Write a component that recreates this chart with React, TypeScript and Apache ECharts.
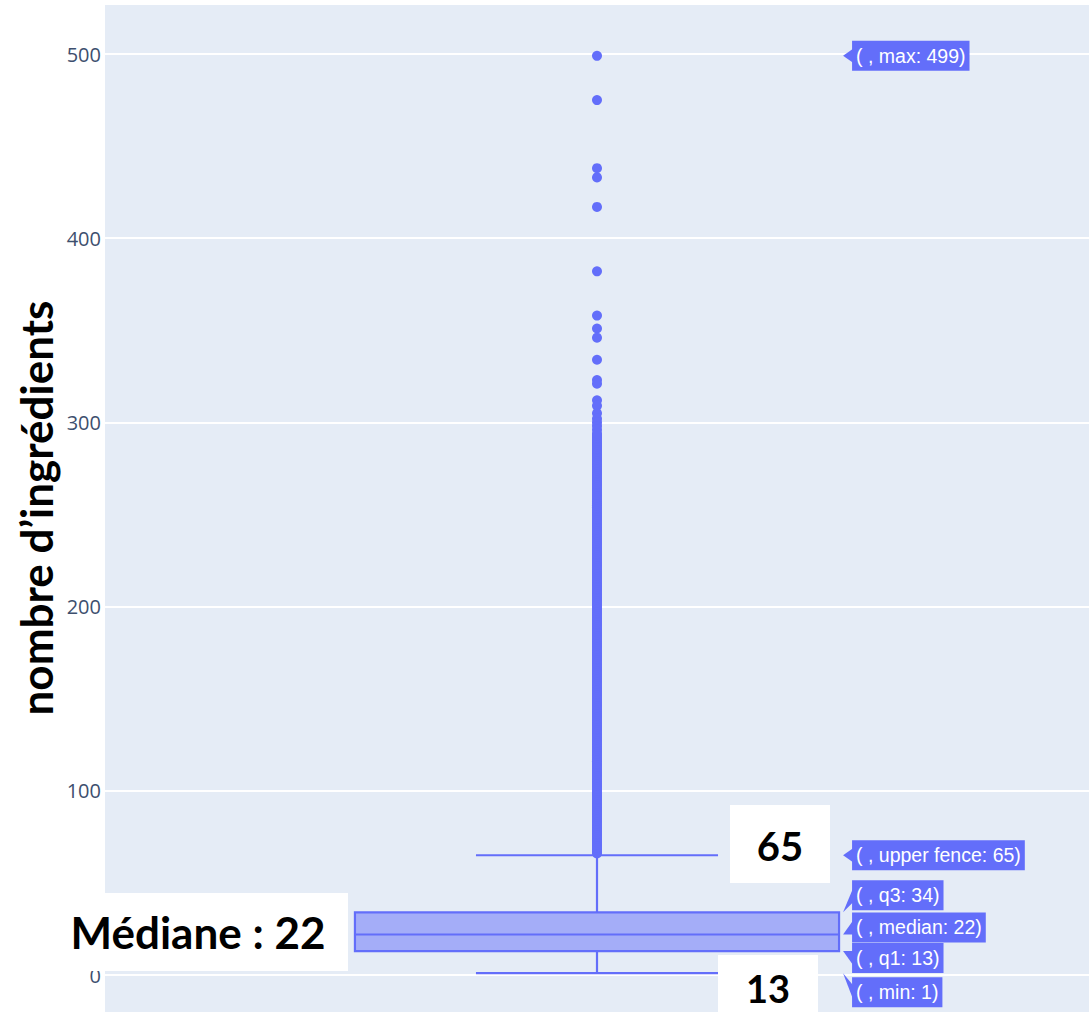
import React, { useEffect, useRef } from "react";
import * as echarts from "echarts";

const categories = [""];
const yTicks = [0, 100, 200, 300, 400, 500];
const boxMin = 1;
const boxQ1 = 13;
const boxMedian = 22;
const boxQ3 = 34;
const boxUpperFence = 65;
const boxMax = 499;

const outliersSparse = [499, 475, 438, 433, 417, 382, 358, 351, 346, 334, 323, 321, 312, 309, 305, 302, 300, 298, 296];
const outliersDense = [
  66, 67, 68, 69, 70, 71, 72, 73, 74, 75, 76, 77, 78, 79, 80, 81, 82, 83, 84, 85,
  86, 87, 88, 89, 90, 91, 92, 93, 94, 95, 96, 97, 98, 99, 100, 101, 102, 103, 104, 105,
  106, 107, 108, 109, 110, 111, 112, 113, 114, 115, 116, 117, 118, 119, 120, 121, 122, 123, 124, 125,
  126, 127, 128, 129, 130, 131, 132, 133, 134, 135, 136, 137, 138, 139, 140, 141, 142, 143, 144, 145,
  146, 147, 148, 149, 150, 151, 152, 153, 154, 155, 156, 157, 158, 159, 160, 161, 162, 163, 164, 165,
  166, 167, 168, 169, 170, 171, 172, 173, 174, 175, 176, 177, 178, 179, 180, 181, 182, 183, 184, 185,
  186, 187, 188, 189, 190, 191, 192, 193, 194, 195, 196, 197, 198, 199, 200, 201, 202, 203, 204, 205,
  206, 207, 208, 209, 210, 211, 212, 213, 214, 215, 216, 217, 218, 219, 220, 221, 222, 223, 224, 225,
  226, 227, 228, 229, 230, 231, 232, 233, 234, 235, 236, 237, 238, 239, 240, 241, 242, 243, 244, 245,
  246, 247, 248, 249, 250, 251, 252, 253, 254, 255, 256, 257, 258, 259, 260, 261, 262, 263, 264, 265,
  266, 267, 268, 269, 270, 271, 272, 273, 274, 275, 276, 277, 278, 279, 280, 281, 282, 283, 284, 285,
  286, 287, 288, 289, 290, 291, 292, 293, 294,
];

const hoverNames = ["max", "upper fence", "q3", "median", "q1", "min"];
const hoverValues = [boxMax, boxUpperFence, boxQ3, boxMedian, boxQ1, boxMin];
const hoverShift = [0, 0, -17, -7, 7, 19];

const yAxisTitle = "nombre d’ingrédients";
const calloutMedian = "Médiane : 22";
const calloutUpper = "65";
const calloutLower = "13";

const W = 1089;
const H = 1012;
const GRID_LEFT = 105;
const GRID_RIGHT = 0;
const GRID_TOP = 54;
const GRID_BOTTOM = 37;
const BLUE = "#636EFA";
const BOX_FRAC = 0.246;

export default function App() {
  const ref = useRef<HTMLDivElement>(null);
  useEffect(() => {
    if (!ref.current) return;
    const chart = echarts.init(ref.current, null, { renderer: "svg" });
    const option: any = {
      animation: false,
      backgroundColor: "#ffffff",
      grid: { left: GRID_LEFT, right: GRID_RIGHT, top: GRID_TOP, bottom: GRID_BOTTOM, containLabel: false },
      xAxis: {
        type: "category",
        data: categories,
        boundaryGap: true,
        axisLine: { show: false },
        axisTick: { show: false },
        axisLabel: { show: false },
        splitLine: { show: false },
      },
      yAxis: {
        type: "value",
        min: yTicks[0],
        max: yTicks[yTicks.length - 1],
        interval: 100,
        axisLine: { show: false },
        axisTick: { show: false },
        axisLabel: {
          margin: 4,
          fontFamily: "'Open Sans', sans-serif",
          fontSize: 20,
          color: "#3d4f6e",
        },
        splitLine: { show: true, lineStyle: { color: "#ffffff", width: 2 } },
      },
      series: [
        {
          type: "custom",
          data: [[0, boxMin, boxQ1, boxMedian, boxQ3, boxUpperFence]],
          encode: { x: 0, y: [1, 2, 3, 4, 5] },
          z: 3,
          renderItem: (params: any, api: any) => {
            const xv = api.value(0);
            const band = api.size([1, 0])[0];
            const half = band * BOX_FRAC;
            const cap = half / 2;
            const cx = api.coord([xv, api.value(3)])[0];
            const yMin = api.coord([xv, api.value(1)])[1];
            const yQ1 = api.coord([xv, api.value(2)])[1];
            const yMed = api.coord([xv, api.value(3)])[1];
            const yQ3 = api.coord([xv, api.value(4)])[1];
            const yUF = api.coord([xv, api.value(5)])[1];
            const ls = { stroke: BLUE, lineWidth: 2.2 };
            return {
              type: "group",
              children: [
                { type: "line", shape: { x1: cx, y1: yQ3, x2: cx, y2: yUF }, style: ls },
                { type: "line", shape: { x1: cx - cap, y1: yUF, x2: cx + cap, y2: yUF }, style: ls },
                { type: "line", shape: { x1: cx, y1: yQ1, x2: cx, y2: yMin }, style: ls },
                { type: "line", shape: { x1: cx - cap, y1: yMin, x2: cx + cap, y2: yMin }, style: ls },
                {
                  type: "rect",
                  shape: { x: cx - half, y: yQ3, width: half * 2, height: yQ1 - yQ3 },
                  style: { fill: "rgba(99,110,250,0.5)", stroke: BLUE, lineWidth: 2.2 },
                },
                { type: "line", shape: { x1: cx - half, y1: yMed, x2: cx + half, y2: yMed }, style: ls },
              ],
            };
          },
        },
        {
          type: "scatter",
          data: [...outliersSparse, ...outliersDense].map((v) => [0, v]),
          symbolSize: 10,
          itemStyle: { color: BLUE, opacity: 1 },
          z: 4,
        },
      ],
    };
    chart.setOption(option);

    const plotW = W - GRID_LEFT - GRID_RIGHT;
    const center = chart.convertToPixel({ gridIndex: 0 } as any, [0, 0]) as number[];
    const cx = center[0];
    const tipX = cx + plotW * BOX_FRAC + 4;
    const labelX = tipX + 9;

    const graphics: any[] = [
      {
        type: "rect",
        z: -100,
        silent: true,
        shape: { x: GRID_LEFT, y: 5, width: plotW, height: H - 5 },
        style: { fill: "#E5ECF6" },
      },
    ];

    hoverValues.forEach((v, i) => {
      const py = (chart.convertToPixel({ gridIndex: 0 } as any, [0, v]) as number[])[1];
      const ly = py + hoverShift[i];
      graphics.push({
        type: "polygon",
        z: 50,
        shape: {
          points: [
            [tipX, py],
            [labelX + 1, ly - 7],
            [labelX + 1, ly + 7],
          ],
        },
        style: { fill: BLUE },
      });
      graphics.push({
        type: "text",
        z: 51,
        x: labelX,
        y: ly,
        style: {
          text: `( , ${hoverNames[i]}: ${v})`,
          fill: "#ffffff",
          font: "19.5px 'Liberation Sans', Arial, sans-serif",
          verticalAlign: "middle",
          align: "left",
          backgroundColor: BLUE,
          padding: [4, 4, 4, 4],
          lineHeight: 22,
        },
      });
    });

    graphics.push(
      {
        type: "text",
        z: 60,
        x: 36,
        y: 508,
        rotation: Math.PI / 2,
        style: {
          text: yAxisTitle,
          fill: "#000000",
          font: "bold 44px Lato, sans-serif",
          align: "center",
          verticalAlign: "middle",
        },
      },
      { type: "rect", z: 70, shape: { x: 0, y: 893, width: 348, height: 78 }, style: { fill: "#ffffff" } },
      {
        type: "text",
        z: 71,
        x: 198,
        y: 932,
        style: { text: calloutMedian, fill: "#000", font: "bold 44px Lato, sans-serif", align: "center", verticalAlign: "middle" },
      },
      { type: "rect", z: 70, shape: { x: 730, y: 805, width: 100, height: 78 }, style: { fill: "#ffffff" } },
      {
        type: "text",
        z: 71,
        x: 780,
        y: 846,
        style: { text: calloutUpper, fill: "#000", font: "bold 40px Lato, sans-serif", align: "center", verticalAlign: "middle" },
      },
      { type: "rect", z: 70, shape: { x: 718, y: 955, width: 100, height: 57 }, style: { fill: "#ffffff" } },
      {
        type: "text",
        z: 71,
        x: 768,
        y: 988,
        style: {
          text: calloutLower,
          fill: "#000",
          font: "bold 38px Lato, sans-serif",
          align: "center",
          verticalAlign: "middle",
        },
      }
    );

    chart.setOption({ graphic: graphics });
    return () => chart.dispose();
  }, []);

  return (
    <div
      ref={ref}
      style={{ position: "absolute", left: 0, top: 0, width: W, height: H }}
    />
  );
}
